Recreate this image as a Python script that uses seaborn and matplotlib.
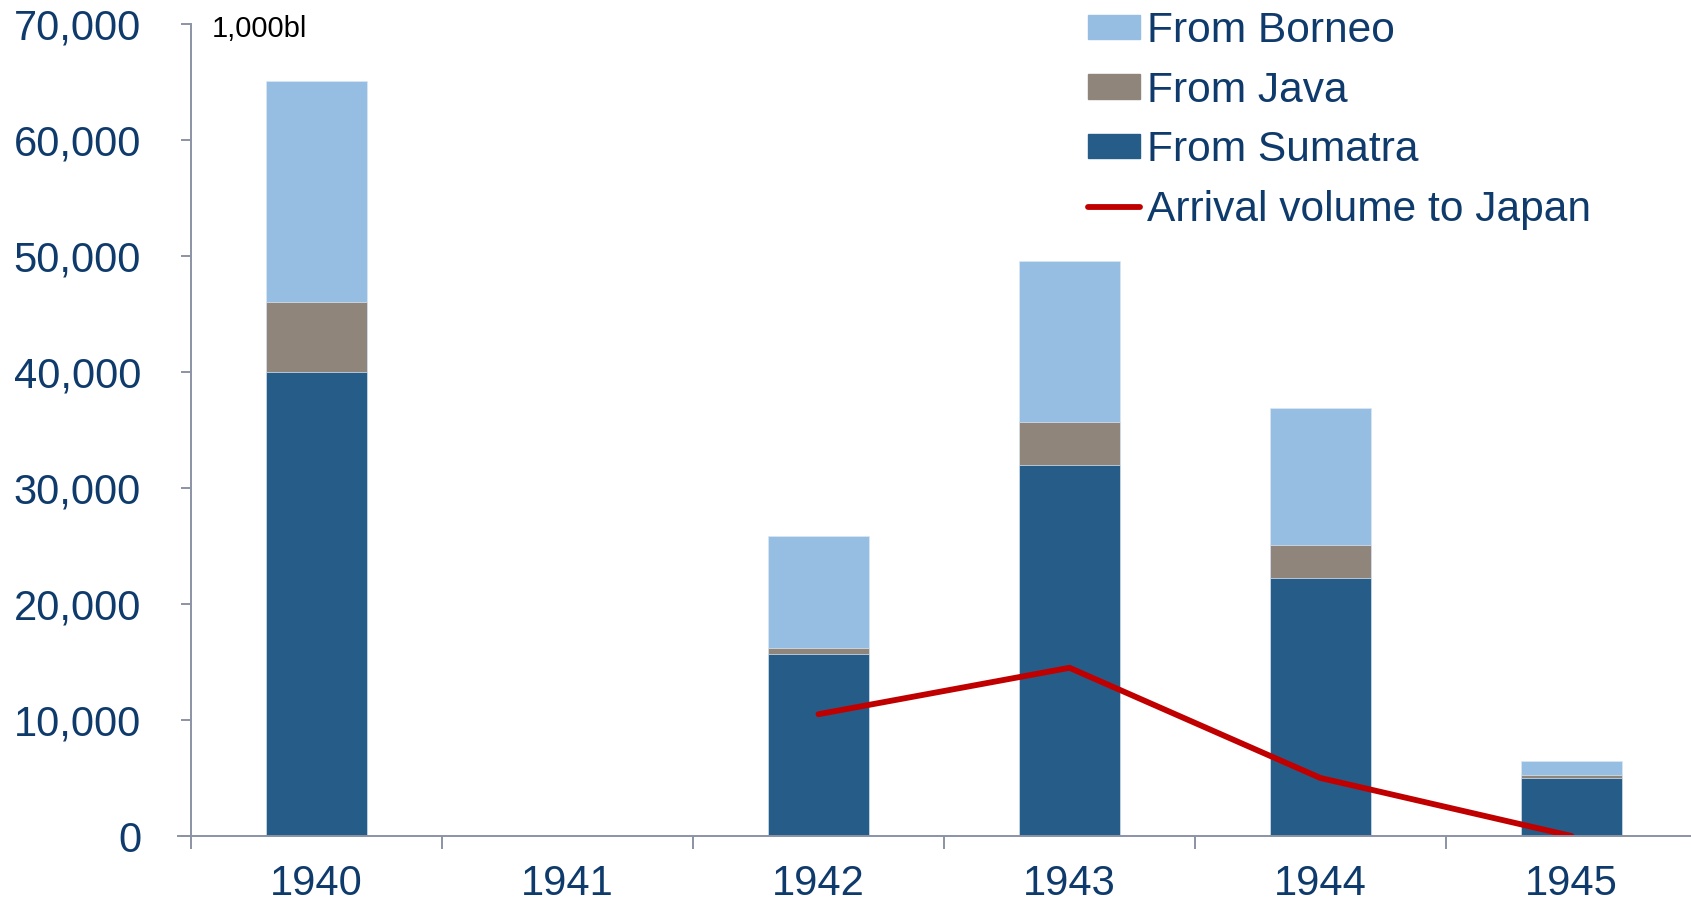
import numpy as np
import pandas as pd
import matplotlib
matplotlib.use("Agg")
import matplotlib.pyplot as plt
import seaborn as sns
from matplotlib.patches import Patch
from matplotlib.lines import Line2D
from matplotlib.ticker import FuncFormatter, FixedLocator

# values in 1,000 barrels
years = [1940, 1941, 1942, 1943, 1944, 1945]
from_sumatra = [40000, 0, 15700, 32000, 22200, 5000]
from_java = [6000, 0, 550, 3650, 2870, 300]
from_borneo = [19100, 0, 9650, 13930, 11790, 1200]
arrival_years = [1942, 1943, 1944, 1945]
arrival_japan = [10500, 14500, 5000, 0]

c_borneo = "#95BEE2"
c_java = "#8F857B"
c_sumatra = "#265C88"
c_line = "#C00000"
c_text = "#0F3B6C"
c_axis = "#8A93A5"

sns.set_style("white")
plt.rcParams["font.family"] = ["Liberation Sans", "DejaVu Sans"]

df = pd.DataFrame({"year": years, "sumatra": from_sumatra,
                   "java": from_java, "borneo": from_borneo})
df["sum_java"] = df["sumatra"] + df["java"]
df["total"] = df["sum_java"] + df["borneo"]
arrival = pd.DataFrame({"year": arrival_years, "volume": arrival_japan})

fig = plt.figure(figsize=(16.91, 9.08), dpi=100)
ax = fig.add_axes([191 / 1691, 72 / 908, 1506 / 1691, 812 / 908])

for col, colr in [("total", c_borneo), ("sum_java", c_java), ("sumatra", c_sumatra)]:
    sns.barplot(data=df, x="year", y=col, native_scale=True, width=0.4,
                color=colr, saturation=1, errorbar=None, ax=ax,
                edgecolor="#DCE8F4", linewidth=0.5)

sns.lineplot(data=arrival, x="year", y="volume", color=c_line, lw=4.2, ax=ax)

ax.set_xlim(years[0] - 0.5, years[-1] + 0.5)
ax.set_ylim(0, 70000)
ax.set_xlabel("")
ax.set_ylabel("")

ax.xaxis.set_major_locator(FixedLocator(years))
ax.set_xticklabels([str(y) for y in years])
ax.xaxis.set_minor_locator(FixedLocator([y - 0.5 for y in years] + [years[-1] + 0.5]))
ax.set_yticks(np.arange(0, 70001, 10000))
ax.yaxis.set_major_formatter(FuncFormatter(lambda v, p: f"{int(v):,}"))

ax.tick_params(axis="x", which="major", length=0, pad=20, labelsize=30, labelcolor=c_text)
ax.tick_params(axis="x", which="minor", length=9, width=1.4, color=c_axis, direction="out", bottom=True)
ax.tick_params(axis="y", which="major", length=7, width=1.4, color=c_axis, direction="out",
               left=True, pad=29, labelsize=30, labelcolor=c_text)

for s in ["top", "right"]:
    ax.spines[s].set_visible(False)
for s in ["left", "bottom"]:
    ax.spines[s].set_color(c_axis)
    ax.spines[s].set_linewidth(1.4)
ax.spines["bottom"].set_bounds(years[0] - 0.553, years[-1] + 0.5)

fig.text(212 / 1691, 1 - 29 / 908, "1,000bl", fontsize=21, color="black", va="center")

handles = [Patch(color=c_borneo, label="From Borneo"),
           Patch(color=c_java, label="From Java"),
           Patch(color=c_sumatra, label="From Sumatra"),
           Line2D([], [], color=c_line, lw=4.2, label="Arrival volume to Japan")]
fig.legend(handles=handles, loc="upper left", bbox_to_anchor=(1088 / 1691, 1 - 11 / 908),
           frameon=False, fontsize=30.6, labelcolor=c_text, handlelength=1.23,
           handleheight=0.5, handletextpad=0.15, labelspacing=0.46, borderpad=0,
           borderaxespad=0)

fig.savefig("out.png", dpi=100)
